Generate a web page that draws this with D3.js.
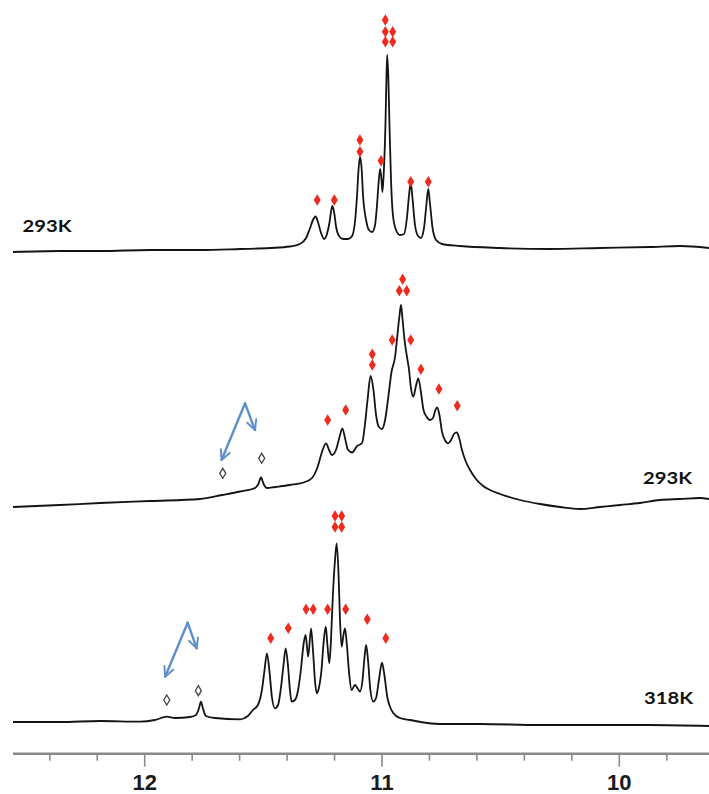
<!DOCTYPE html>
<html>
<head>
<meta charset="utf-8">
<script src="https://cdn.jsdelivr.net/npm/d3@7"></script>
<style>
  html, body { margin: 0; padding: 0; background: #fff; }
  svg { display: block; }
</style>
</head>
<body>
<svg id="chart" width="709" height="794"></svg>
<script>
// ---- chemical shift axis (ppm) ----
const axisDomain = [12.555, 9.622];
const majorTicks = [12, 11, 10];
const minorTicks = [12.4, 12.2, 11.8, 11.6, 11.4, 11.2, 10.8, 10.6, 10.4, 10.2, 9.8];

// ---- spectrum A: 293K (upper trace) ----
const specA_ppm = [12.555,12.357,12.188,11.978,11.767,11.598,11.472,11.388,11.346,11.320,11.303,11.291,11.280,11.270,11.257,11.244,11.232,11.221,11.215,11.209,11.202,11.194,11.181,11.164,11.143,11.126,11.114,11.105,11.099,11.093,11.086,11.080,11.067,11.055,11.042,11.030,11.021,11.015,11.008,11.002,10.998,10.992,10.985,10.981,10.978,10.973,10.968,10.962,10.954,10.941,10.924,10.907,10.895,10.886,10.879,10.872,10.861,10.848,10.836,10.823,10.813,10.805,10.798,10.787,10.772,10.747,10.671,10.503,10.292,10.081,9.871,9.744,9.622];
const specA_int = [0,1,1,2,2,3,4,5.5,8,14,24,32,35.5,30,19,13,18,30,40,46,40,26,16,13,13,16,30,57,82,95,84,57,32,22,20,26,47,67,83,72,60,82,132,177,197,172,122,72,37,22,17,18,34,57,69,55,27,16,14,24,47,63,49,24,12,8,6,4,3,4,5,6,4];

// ---- spectrum B: 293K (middle trace) ----
const specB_ppm = [12.555,12.357,12.188,11.978,11.767,11.674,11.598,11.535,11.521,11.510,11.499,11.485,11.451,11.388,11.325,11.295,11.270,11.253,11.236,11.223,11.211,11.194,11.179,11.167,11.156,11.143,11.126,11.105,11.084,11.072,11.061,11.048,11.036,11.025,11.013,11.000,10.987,10.975,10.960,10.945,10.935,10.926,10.920,10.914,10.905,10.896,10.886,10.878,10.868,10.857,10.847,10.836,10.825,10.812,10.798,10.785,10.775,10.767,10.758,10.747,10.735,10.721,10.709,10.697,10.685,10.676,10.663,10.646,10.629,10.604,10.574,10.545,10.503,10.418,10.334,10.250,10.166,10.081,9.997,9.913,9.829,9.744,9.660,9.622];
const specB_int = [3,5,7,9,11,15,18.5,22,26,32.5,26,22,23,25,28,32,44,58,66.7,60,55,60,73,81.7,72,60,57.5,64,67,85,110,134,120,95,83,81,90,110,138,153,175,195,205,192,170,155,140,122,113.3,124,131.7,118,100,93.3,90,92,100,102.7,95,78,70,66.7,70,76,77.7,73,60,48,40,31,24,20,16,10,6,3,1,3,5,7,10,11,12,11];

// ---- spectrum C: 318K (lower trace) ----
const specC_ppm = [12.555,12.357,12.188,12.020,11.957,11.907,11.872,11.809,11.784,11.771,11.763,11.754,11.742,11.704,11.598,11.565,11.544,11.523,11.506,11.495,11.485,11.474,11.464,11.451,11.438,11.426,11.415,11.406,11.396,11.388,11.381,11.367,11.352,11.341,11.331,11.322,11.311,11.299,11.291,11.282,11.275,11.266,11.255,11.247,11.237,11.230,11.222,11.215,11.207,11.198,11.191,11.183,11.177,11.170,11.163,11.156,11.148,11.139,11.128,11.114,11.101,11.093,11.082,11.074,11.067,11.059,11.049,11.037,11.025,11.013,11.000,10.990,10.977,10.964,10.952,10.924,10.882,10.756,10.587,10.334,10.081,9.871,9.622];
const specC_int = [2,2,3,2.3,4,7.3,6,7,9,16,22.3,15,8,6,4.7,8,14,19,34,54,70.7,52,27,15.7,19,36,59,75.7,58,34,22.3,24,36,56,79,89,67.3,95.7,74,42,30.7,36,54,79,97.3,79,60.7,84,129,164,180.7,149,104,77.3,88,95.7,79,52,34,39,35,32.3,44,66,79,64,34,22.3,26,44,61.3,49,26,16,10.7,6,4,0,0,-1,-1,-1,-2];

// ---- assigned resonances (filled red diamonds) ----
const marksA_ppm = [11.273,11.201,11.093,11.093,11.004,10.986,10.986,10.986,10.955,10.955,10.879,10.805];
const marksA_lvl = [52,52,112,100.3,91.3,232,220.3,210.3,220.3,210.3,70.3,70.3];
const marksB_ppm = [11.229,11.153,11.041,11.041,10.957,10.879,10.836,10.760,10.683,10.913,10.927,10.896];
const marksB_lvl = [90,100,155.7,145,170,170,140.7,121,104.3,230.7,219.3,219.3];
const marksC_ppm = [11.469,11.395,11.320,11.290,11.229,11.153,11.062,10.984,11.198,11.170,11.198,11.170];
const marksC_lvl = [85.7,95.7,114.7,114.7,114.7,114.7,104.7,85.7,197,197,208,208];

// ---- minor species (open diamonds) ----
const openB_ppm = [11.671, 11.507];
const openB_lvl = [36.7, 51.7];
const openC_ppm = [11.907, 11.774];
const openC_lvl = [24, 33.3];

// ---- double-headed pointer: [left end, apex, right end] ----
const arrowB_ppm = [11.676, 11.577, 11.535];
const arrowB_lvl = [50, 106.7, 80];
const arrowC_ppm = [11.914, 11.819, 11.781];
const arrowC_lvl = [47.3, 101.3, 75.7];

// ---- panel labels ----
const panelLabels = ["293K", "293K", "318K"];

// ---------------------------------------------------------------
const svg = d3.select("#chart");
const x = d3.scaleLinear().domain(axisDomain).range([13, 709]);

const zip = (a, b) => a.map((v, i) => [v, b[i]]);

const panels = [
  { zero: 252, spec: zip(specA_ppm, specA_int), marks: zip(marksA_ppm, marksA_lvl), open: [], arrow: null,
    label: panelLabels[0], lx: 22.5, ly: 231.5 },
  { zero: 510, spec: zip(specB_ppm, specB_int), marks: zip(marksB_ppm, marksB_lvl), open: zip(openB_ppm, openB_lvl),
    arrow: zip(arrowB_ppm, arrowB_lvl), label: panelLabels[1], lx: 643, ly: 484 },
  { zero: 724, spec: zip(specC_ppm, specC_int), marks: zip(marksC_ppm, marksC_lvl), open: zip(openC_ppm, openC_lvl),
    arrow: zip(arrowC_ppm, arrowC_lvl), label: panelLabels[2], lx: 644, ly: 704 }
];

const diamond = (w, h) => `M0,${-h/2}L${w/2},0L0,${h/2}L${-w/2},0Z`;

// arrowhead marker for the pointers
const defs = svg.append("defs");
defs.append("marker")
  .attr("id", "head").attr("viewBox", "0 0 10 10")
  .attr("refX", 9).attr("refY", 5)
  .attr("markerWidth", 5).attr("markerHeight", 5)
  .attr("markerUnits", "strokeWidth")
  .attr("orient", "auto")
  .append("path").attr("d", "M1,1L9,5L1,9")
  .attr("fill", "none").attr("stroke", "#5d8fcb").attr("stroke-width", 1.6)
  .attr("stroke-linecap", "round").attr("stroke-linejoin", "round");

panels.forEach(p => {
  const y = d3.scaleLinear().domain([0, 250]).range([p.zero, p.zero - 250]);
  const g = svg.append("g");

  g.append("path")
    .datum(p.spec)
    .attr("d", d3.line().x(d => x(d[0])).y(d => y(d[1])).curve(d3.curveMonotoneX))
    .attr("fill", "none")
    .attr("stroke", "#141414")
    .attr("stroke-width", 1.8)
    .attr("stroke-linejoin", "round");

  g.selectAll(".mk").data(p.marks).join("path")
    .attr("d", diamond(7, 11.5))
    .attr("transform", d => `translate(${x(d[0])},${y(d[1])})`)
    .attr("fill", "#ee2b1f");

  g.selectAll(".op").data(p.open).join("path")
    .attr("d", diamond(6, 10))
    .attr("transform", d => `translate(${x(d[0])},${y(d[1])})`)
    .attr("fill", "#fff")
    .attr("stroke", "#444")
    .attr("stroke-width", 1.3);

  if (p.arrow) {
    const [a, apex, b] = p.arrow;
    [a, b].forEach(end => {
      g.append("line")
        .attr("x1", x(apex[0])).attr("y1", y(apex[1]))
        .attr("x2", x(end[0])).attr("y2", y(end[1]))
        .attr("stroke", "#5d8fcb").attr("stroke-width", 2.4)
        .attr("stroke-linecap", "round")
        .attr("marker-end", "url(#head)");
    });
  }

  g.append("text")
    .attr("x", p.lx).attr("y", p.ly)
    .attr("font-family", "Lato, 'Open Sans', sans-serif")
    .attr("font-weight", 700)
    .attr("font-size", 17)
    .attr("textLength", 49)
    .attr("lengthAdjust", "spacingAndGlyphs")
    .attr("fill", "#111")
    .text(p.label);
});

// ---- ppm axis ----
const axisY = 753.7;
const axisG = svg.append("g").attr("transform", `translate(0,${axisY})`);
axisG.append("line")
  .attr("x1", x.range()[0]).attr("x2", x.range()[1])
  .attr("stroke", "#8a8a8a").attr("stroke-width", 2.6);
axisG.selectAll(".minor").data(minorTicks).join("line")
  .attr("x1", d => x(d)).attr("x2", d => x(d))
  .attr("y1", 0).attr("y2", 7)
  .attr("stroke", "#8a8a8a").attr("stroke-width", 1.6);
axisG.selectAll(".major").data(majorTicks).join("line")
  .attr("x1", d => x(d)).attr("x2", d => x(d))
  .attr("y1", 0).attr("y2", 13)
  .attr("stroke", "#8a8a8a").attr("stroke-width", 1.6);
axisG.selectAll(".lab").data(majorTicks).join("text")
  .attr("x", d => x(d)).attr("y", 36)
  .attr("text-anchor", "middle")
  .attr("font-family", "'Liberation Sans', Arial, sans-serif")
  .attr("font-weight", 700)
  .attr("font-size", 22)
  .attr("fill", "#1a1a1a")
  .text(d => d3.format("d")(d));
</script>
</body>
</html>
